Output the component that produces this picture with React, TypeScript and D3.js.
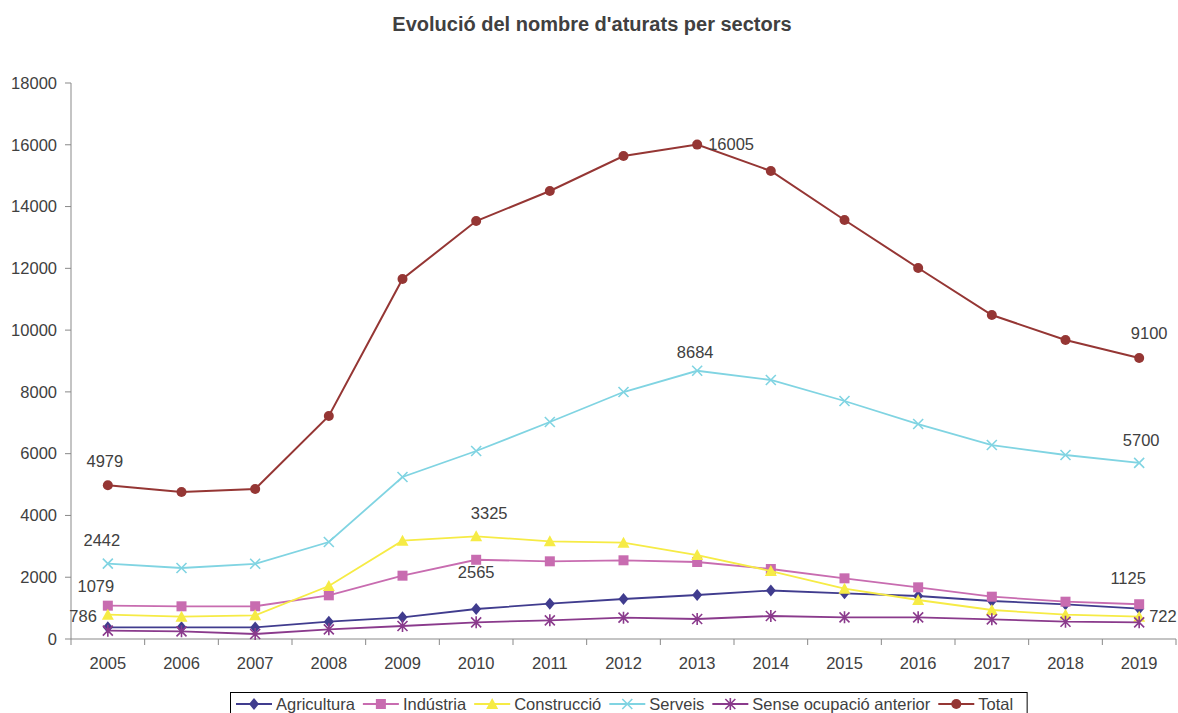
import React, { useEffect, useRef } from 'react';
import * as d3 from 'd3';

const years = ['2005', '2006', '2007', '2008', '2009', '2010', '2011', '2012', '2013', '2014', '2015', '2016', '2017', '2018', '2019'];

const agricultura = [378, 378, 375, 560, 702, 971, 1143, 1295, 1424, 1570, 1478, 1392, 1230, 1122, 981];
const industria = [1079, 1058, 1060, 1414, 2050, 2565, 2515, 2548, 2493, 2266, 1964, 1673, 1370, 1208, 1125];
const construccio = [786, 722, 767, 1716, 3182, 3325, 3163, 3118, 2719, 2201, 1628, 1263, 939, 787, 722];
const serveis = [2442, 2298, 2435, 3140, 5245, 6086, 7025, 7996, 8684, 8385, 7705, 6960, 6280, 5957, 5700];
const senseOcupacio = [270, 248, 162, 313, 421, 540, 605, 690, 647, 745, 702, 702, 637, 560, 540];
const total = [4979, 4759, 4856, 7219, 11654, 13532, 14503, 15636, 16005, 15151, 13565, 12011, 10489, 9680, 9100];

const yTicks = [0, 2000, 4000, 6000, 8000, 10000, 12000, 14000, 16000, 18000];

// labelled points: series index, year index
const labelledPoints = [
  [5, 0], [5, 14], [5, 8],
  [3, 8], [3, 0], [3, 14],
  [2, 5], [2, 0], [2, 14],
  [1, 5], [1, 0], [1, 14],
];
// label offsets from the point, same order (anchor, dx, dy)
const labelPlacement = [
  ['middle', -3, -24], ['middle', 10, -25], ['start', 11, 0],
  ['middle', -2, -19], ['middle', -6, -23], ['middle', 2, -23],
  ['middle', 13, -23], ['end', -11, 2], ['start', 10, 0],
  ['middle', 0, 12], ['middle', -12, -19], ['middle', -11, -26],
];

const series = [
  { name: 'Agricultura', values: agricultura, color: '#403C8E', marker: 'diamond' },
  { name: 'Indústria', values: industria, color: '#C86CB0', marker: 'square' },
  { name: 'Construcció', values: construccio, color: '#F6EB45', marker: 'triangle' },
  { name: 'Serveis', values: serveis, color: '#80D4E2', marker: 'x' },
  { name: 'Sense ocupació anterior', values: senseOcupacio, color: '#8A3A8C', marker: 'star' },
  { name: 'Total', values: total, color: '#953634', marker: 'circle' },
];

const drawMarker = (g, type, color, x, y) => {
  if (type === 'diamond') {
    g.append('path').attr('d', `M${x},${y - 6}L${x + 5},${y}L${x},${y + 6}L${x - 5},${y}Z`).attr('fill', color);
  } else if (type === 'square') {
    g.append('rect').attr('x', x - 5).attr('y', y - 5).attr('width', 10).attr('height', 10).attr('fill', color);
  } else if (type === 'triangle') {
    g.append('path').attr('d', `M${x},${y - 6}L${x + 6},${y + 5}L${x - 6},${y + 5}Z`).attr('fill', color);
  } else if (type === 'x') {
    g.append('path').attr('d', `M${x - 5},${y - 5}L${x + 5},${y + 5}M${x - 5},${y + 5}L${x + 5},${y - 5}`)
      .attr('stroke', color).attr('stroke-width', 1.6).attr('fill', 'none');
  } else if (type === 'star') {
    g.append('path').attr('d', `M${x - 5},${y - 5}L${x + 5},${y + 5}M${x - 5},${y + 5}L${x + 5},${y - 5}M${x},${y - 6}L${x},${y + 6}`)
      .attr('stroke', color).attr('stroke-width', 1.6).attr('fill', 'none');
  } else {
    g.append('circle').attr('cx', x).attr('cy', y).attr('r', 5).attr('fill', color);
  }
};

const App = () => {
  const svgRef = useRef(null);

  useEffect(() => {
    document.body.style.margin = '0';
    const svg = d3.select(svgRef.current);
    svg.selectAll('*').remove();

    const font = 'Liberation Sans, Arial, sans-serif';
    const fs = 16.5;
    const textColor = '#404040';
    const axisColor = '#898989';
    const left = 71, right = 1176, top = 83, bottom = 639;

    const x = d3.scaleBand().domain(years).range([left, right]);
    const y = d3.scaleLinear().domain([0, 18000]).range([bottom, top]);
    const cx = d => x(d) + x.bandwidth() / 2;

    svg.append('text')
      .attr('x', 592).attr('y', 31)
      .attr('text-anchor', 'middle')
      .attr('font-family', font).attr('font-weight', 'bold').attr('font-size', 20)
      .attr('fill', textColor)
      .text("Evolució del nombre d'aturats per sectors");

    // y axis
    const yAxis = svg.append('g');
    yAxis.append('line').attr('x1', left).attr('x2', left).attr('y1', top).attr('y2', bottom).attr('stroke', axisColor);
    yTicks.forEach(t => {
      yAxis.append('line').attr('x1', left - 6).attr('x2', left).attr('y1', y(t)).attr('y2', y(t)).attr('stroke', axisColor);
      yAxis.append('text')
        .attr('x', left - 14).attr('y', y(t)).attr('dy', '0.35em')
        .attr('text-anchor', 'end')
        .attr('font-family', font).attr('font-size', fs).attr('fill', textColor)
        .text(t);
    });

    // x axis
    const xAxis = svg.append('g');
    xAxis.append('line').attr('x1', left).attr('x2', right).attr('y1', bottom).attr('y2', bottom).attr('stroke', axisColor);
    years.forEach(yr => {
      xAxis.append('line').attr('x1', x(yr)).attr('x2', x(yr)).attr('y1', bottom).attr('y2', bottom + 6).attr('stroke', axisColor);
      xAxis.append('text')
        .attr('x', cx(yr)).attr('y', bottom + 24).attr('dy', '0.35em')
        .attr('text-anchor', 'middle')
        .attr('font-family', font).attr('font-size', fs).attr('fill', textColor)
        .text(yr);
    });
    xAxis.append('line').attr('x1', right).attr('x2', right).attr('y1', bottom).attr('y2', bottom + 6).attr('stroke', axisColor);

    const line = d3.line().x((d, i) => cx(years[i])).y(d => y(d));

    series.forEach(s => {
      const g = svg.append('g');
      g.append('path').datum(s.values)
        .attr('d', line)
        .attr('fill', 'none')
        .attr('stroke', s.color)
        .attr('stroke-width', s.name === 'Total' ? 2 : 1.8);
      s.values.forEach((v, i) => drawMarker(g, s.marker, s.color, cx(years[i]), y(v)));
    });

    labelledPoints.forEach(([si, i], k) => {
      const [anchor, dx, dy] = labelPlacement[k];
      const v = series[si].values[i];
      svg.append('text')
        .attr('x', cx(years[i]) + dx).attr('y', y(v) + dy).attr('dy', '0.35em')
        .attr('text-anchor', anchor)
        .attr('font-family', font).attr('font-size', fs).attr('fill', textColor)
        .text(v);
    });

    // legend
    const lg = svg.append('g');
    const box = lg.append('rect').attr('x', 230.5).attr('y', 692.5).attr('height', 30)
      .attr('fill', 'white').attr('stroke', '#000').attr('stroke-width', 1);
    let lx = 236;
    const ly = 704;
    series.forEach(s => {
      lg.append('line').attr('x1', lx).attr('x2', lx + 36).attr('y1', ly).attr('y2', ly)
        .attr('stroke', s.color).attr('stroke-width', 2);
      drawMarker(lg, s.marker, s.color, lx + 18, ly);
      const t = lg.append('text')
        .attr('x', lx + 40).attr('y', ly).attr('dy', '0.35em')
        .attr('font-family', font).attr('font-size', fs).attr('fill', textColor)
        .text(s.name);
      lx += 40 + t.node().getComputedTextLength() + 8;
    });
    box.attr('width', lx + 6 - 230.5);
  }, []);

  return <svg ref={svgRef} width={1178} height={713} style={{ display: 'block' }} />;
};

export default App;
